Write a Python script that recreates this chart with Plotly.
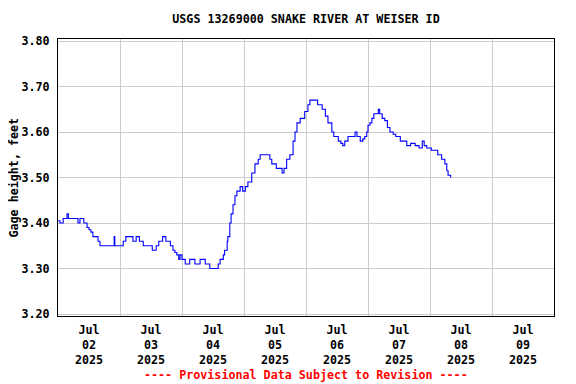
import pandas as pd
import plotly.graph_objects as go

# Hours since 2025-07-02 00:00 and gage height (feet)
hours = [0, 0.75, 2, 2.75, 3.5, 4, 7, 7.75, 8.5, 9.25, 10, 11.25, 12, 12.75, 13.5, 14.75,
         15.5, 16.25, 21.25, 21.75, 22, 24, 25.25, 26.25, 28, 29, 30.25, 31.5, 33, 35.5,
         36.5, 38, 39, 40.5, 41.75, 43.5, 44.5, 45.25, 46, 46.75, 47.25, 48, 49.25, 51,
         53, 55, 57, 58.75, 60.75, 62, 62.75, 64, 64.5, 65.5, 65.75, 66.5, 67, 67.75,
         68.5, 69.25, 70.5, 71.5, 72.5, 73.5, 75, 76.25, 77.5, 78.25, 81.25, 82, 82.75,
         84.5, 86, 86.75, 87.5, 88.5, 89.75, 91, 91.75, 92.5, 93.75, 94.75, 95.5, 96.75,
         97.5, 99.5, 100.5, 102.25, 103.5, 104.5, 106, 106.75, 108.5, 109.5, 110.25,
         111, 112.25, 114.25, 115, 115.75, 117, 118, 118.75, 119.5, 120, 120.75, 121.5,
         122.25, 123.5, 124, 124.5, 125.5, 126.5, 127.5, 128.5, 129.75, 130.75, 132.5,
         134.25, 135, 136.5, 138.25, 139.75, 141, 141.75, 142.75, 144.5, 146.75, 147,
         148.5, 149.75, 150.5, 151, 152]
gage = [3.405, 3.40, 3.41, 3.41, 3.42, 3.41, 3.41, 3.40, 3.41, 3.41, 3.40, 3.39, 3.385,
        3.38, 3.37, 3.37, 3.36, 3.35, 3.35, 3.37, 3.35, 3.35, 3.36, 3.37, 3.37, 3.36,
        3.37, 3.36, 3.35, 3.35, 3.34, 3.35, 3.36, 3.37, 3.36, 3.35, 3.34, 3.335, 3.33,
        3.32, 3.33, 3.32, 3.31, 3.32, 3.31, 3.32, 3.31, 3.30, 3.30, 3.31, 3.32, 3.33,
        3.34, 3.36, 3.37, 3.40, 3.42, 3.44, 3.46, 3.47, 3.48, 3.47, 3.48, 3.49, 3.51,
        3.53, 3.54, 3.55, 3.55, 3.54, 3.53, 3.52, 3.52, 3.51, 3.52, 3.54, 3.55, 3.58,
        3.60, 3.62, 3.63, 3.63, 3.645, 3.66, 3.67, 3.67, 3.66, 3.65, 3.635, 3.62, 3.60,
        3.59, 3.58, 3.575, 3.57, 3.58, 3.59, 3.59, 3.60, 3.59, 3.58, 3.585, 3.59, 3.60,
        3.615, 3.62, 3.63, 3.64, 3.64, 3.65, 3.64, 3.63, 3.625, 3.61, 3.60, 3.595, 3.59,
        3.58, 3.58, 3.57, 3.575, 3.57, 3.565, 3.58, 3.57, 3.565, 3.56, 3.56, 3.55, 3.54,
        3.53, 3.515, 3.505, 3.50]

y_ticks = [3.20, 3.30, 3.40, 3.50, 3.60, 3.70, 3.80]
title_text = "USGS 13269000 SNAKE RIVER AT WEISER ID"
y_title = "Gage height, feet"
note = "---- Provisional Data Subject to Revision ----"

times = pd.Timestamp("2025-07-02") + pd.to_timedelta(hours, unit="h")

FONT = "DejaVu Sans Mono"
# the page body adds an 8px offset, compensated in the margins
fig = go.Figure()
fig.add_trace(go.Scatter(x=times, y=gage, mode="lines", line=dict(color="#0000ff", width=1.1, shape="hv"),
                         showlegend=False, hoverinfo="skip"))

fig.update_layout(
    width=576, height=384,
    margin=dict(l=50, r=30, t=31, b=76, autoexpand=False),
    paper_bgcolor="white", plot_bgcolor="white",
    font=dict(family=FONT, size=11.7, color="black", weight="bold"),
    title=dict(text=title_text, x=0.5, xref="paper", xanchor="center", y=1 - 11 / 384, yanchor="middle",
               automargin=False,
               font=dict(family=FONT, size=11.7, color="black", weight="bold")),
    xaxis=dict(range=["2025-07-02", "2025-07-10"], type="date", dtick=86400000, tick0="2025-07-02",
               ticklabelmode="period", tickformat="%b<br>%d<br>%Y", showgrid=True, gridcolor="#cccccc",
               gridwidth=1, showline=True, mirror=True, linecolor="black", linewidth=1, ticks="",
               zeroline=False, ticklabelstandoff=3, automargin=False),
    yaxis=dict(range=[3.1956, 3.8044], tickvals=y_ticks, tickformat=".2f", showgrid=True,
               gridcolor="#cccccc", gridwidth=1, showline=True, mirror=True, linecolor="black",
               linewidth=1, ticks="", zeroline=False, ticklabelstandoff=5, automargin=False),
    annotations=[
        dict(text=note, xref="paper", yref="paper", x=0.5, y=-(375 - 316) / 277,
             xanchor="center", yanchor="middle", showarrow=False,
             font=dict(family=FONT, size=11.7, color="red", weight="bold")),
        dict(text=y_title, xref="paper", yref="paper", x=(5 - 50) / 496, y=0.5, textangle=-90,
             xanchor="center", yanchor="middle", showarrow=False,
             font=dict(family=FONT, size=11.7, color="black", weight="bold")),
    ],
)

fig.write_html("out.html")
